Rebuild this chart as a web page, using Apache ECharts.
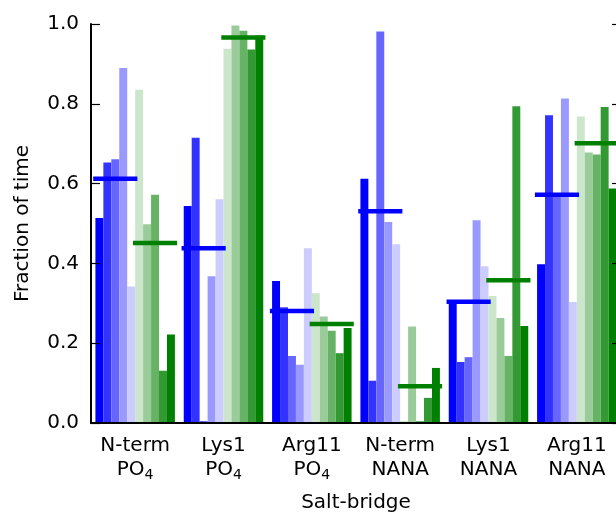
<!DOCTYPE html>
<html>
<head>
<meta charset="utf-8">
<script src="https://cdn.jsdelivr.net/npm/echarts@6/dist/echarts.min.js"></script>
<style>
  html, body { margin: 0; padding: 0; background: #fff; }
  #saltBridge { width: 616px; height: 512px; }
</style>
</head>
<body>
<div id="saltBridge"></div>
<script>
  // salt-bridge groups
  var categories = ['N-term\nPO{s|4}', 'Lys1\nPO{s|4}', 'Arg11\nPO{s|4}', 'N-term\nNANA', 'Lys1\nNANA', 'Arg11\nNANA']
  var yTicks = [0, 0.2, 0.4, 0.6, 0.8, 1.0]

  // blue runs, dark -> light
  var blue1 = [0.514, 0.544, 0.356, 0.612, 0.304, 0.398]
  var blue2 = [0.653, 0.715, 0.290, 0.106, 0.153, 0.771]
  var blue3 = [0.661, 0.005, 0.168, 0.981, 0.165, 0.575]
  var blue4 = [0.890, 0.368, 0.146, 0.504, 0.508, 0.813]
  var blue5 = [0.342, 0.561, 0.438, 0.448, 0.393, 0.303]
  // green runs, light -> dark
  var green1 = [0.835, 0.938, 0.325, 0.005, 0.318, 0.768]
  var green2 = [0.498, 0.996, 0.267, 0.242, 0.263, 0.678]
  var green3 = [0.572, 0.983, 0.231, 0.005, 0.168, 0.673]
  var green4 = [0.131, 0.936, 0.175, 0.063, 0.794, 0.792]
  var green5 = [0.222, 0.971, 0.238, 0.138, 0.243, 0.588]
  // averages drawn as thick horizontal bars
  var blueMean = [0.612, 0.438, 0.281, 0.531, 0.304, 0.572]
  var greenMean = [0.451, 0.966, 0.248, 0.092, 0.358, 0.701]

  var blueColors = ['#0000ff', '#3333ff', '#6666ff', '#9999ff', '#ccccff']
  var greenColors = ['#cce6cc', '#99cc99', '#66b366', '#339933', '#008000']

  var font = 'DejaVu Sans'

  function barSeries(data, color){
    return {
      type: 'bar',
      data: data,
      barGap: 0,
      barCategoryGap: '10%',
      itemStyle: { color: color },
      silent: true
    }
  }

  function meanSeries(data, color, left){
    return {
      type: 'custom',
      z: 5,
      silent: true,
      data: data.map(function(v, i){ return [i, v] }),
      encode: { x: 0, y: 1 },
      renderItem: function(params, api){
        var p = api.coord([api.value(0), api.value(1)])
        var bw = api.size([1, 0])[0] * 0.9 / 10
        var x0 = left ? p[0] - 5 * bw - 2.2 : p[0] - 2.2
        var x1 = left ? p[0] + 2.2 : p[0] + 5 * bw + 2.2
        return {
          type: 'line',
          shape: { x1: x0, y1: p[1], x2: x1, y2: p[1] },
          style: { stroke: color, lineWidth: 4.5 }
        }
      }
    }
  }

  var series = []
  ;[blue1, blue2, blue3, blue4, blue5].forEach(function(d, i){ series.push(barSeries(d, blueColors[i])) })
  ;[green1, green2, green3, green4, green5].forEach(function(d, i){ series.push(barSeries(d, greenColors[i])) })
  series.push(meanSeries(blueMean, '#0000ff', true))
  series.push(meanSeries(greenMean, '#008000', false))

  var axisLine = { lineStyle: { color: '#000', width: 2 } }
  var tick = { inside: true, length: 9, lineStyle: { color: '#000', width: 1.2 } }

  var chart = echarts.init(document.getElementById('saltBridge'))
  chart.setOption({
    animation: false,
    textStyle: { fontFamily: font },
    // the original figure is cropped on the right, so the plot runs past the canvas
    grid: { left: 91, right: -5, top: 24, bottom: 89, outerBoundsMode: 'none', containLabel: false },
    xAxis: [
      {
        type: 'category',
        data: categories,
        z: 10,
        name: 'Salt-bridge',
        nameLocation: 'middle',
        nameGap: 70,
        nameTextStyle: { fontFamily: font, fontSize: 20, color: '#000' },
        axisLine: axisLine,
        axisTick: Object.assign({ alignWithLabel: true }, tick),
        axisLabel: {
          fontFamily: font,
          fontSize: 20,
          lineHeight: 24,
          color: '#000',
          margin: 11,
          interval: 0,
          rich: {
            s: { fontFamily: font, fontSize: 14, lineHeight: 14, verticalAlign: 'bottom', color: '#000' }
          }
        }
      },
      {
        type: 'category',
        data: categories,
        position: 'top',
        z: 10,
        axisLine: axisLine,
        axisTick: Object.assign({ alignWithLabel: true }, tick),
        axisLabel: { show: false }
      }
    ],
    yAxis: [
      {
        type: 'value',
        min: 0,
        max: 1,
        interval: 0.2,
        z: 10,
        name: 'Fraction of time',
        nameLocation: 'middle',
        nameGap: 58,
        nameTextStyle: { fontFamily: font, fontSize: 20, color: '#000' },
        axisLine: Object.assign({ show: true }, axisLine),
        axisTick: Object.assign({ show: true }, tick),
        splitLine: { show: false },
        axisLabel: {
          fontFamily: font,
          fontSize: 20,
          color: '#000',
          margin: 12,
          customValues: yTicks,
          formatter: function(v){ return v.toFixed(1) }
        }
      },
      {
        type: 'value',
        min: 0,
        max: 1,
        interval: 0.2,
        position: 'right',
        z: 10,
        axisLine: Object.assign({ show: true }, axisLine),
        axisTick: Object.assign({ show: true }, tick),
        splitLine: { show: false },
        axisLabel: { show: false }
      }
    ],
    series: series
  })
</script>
</body>
</html>
